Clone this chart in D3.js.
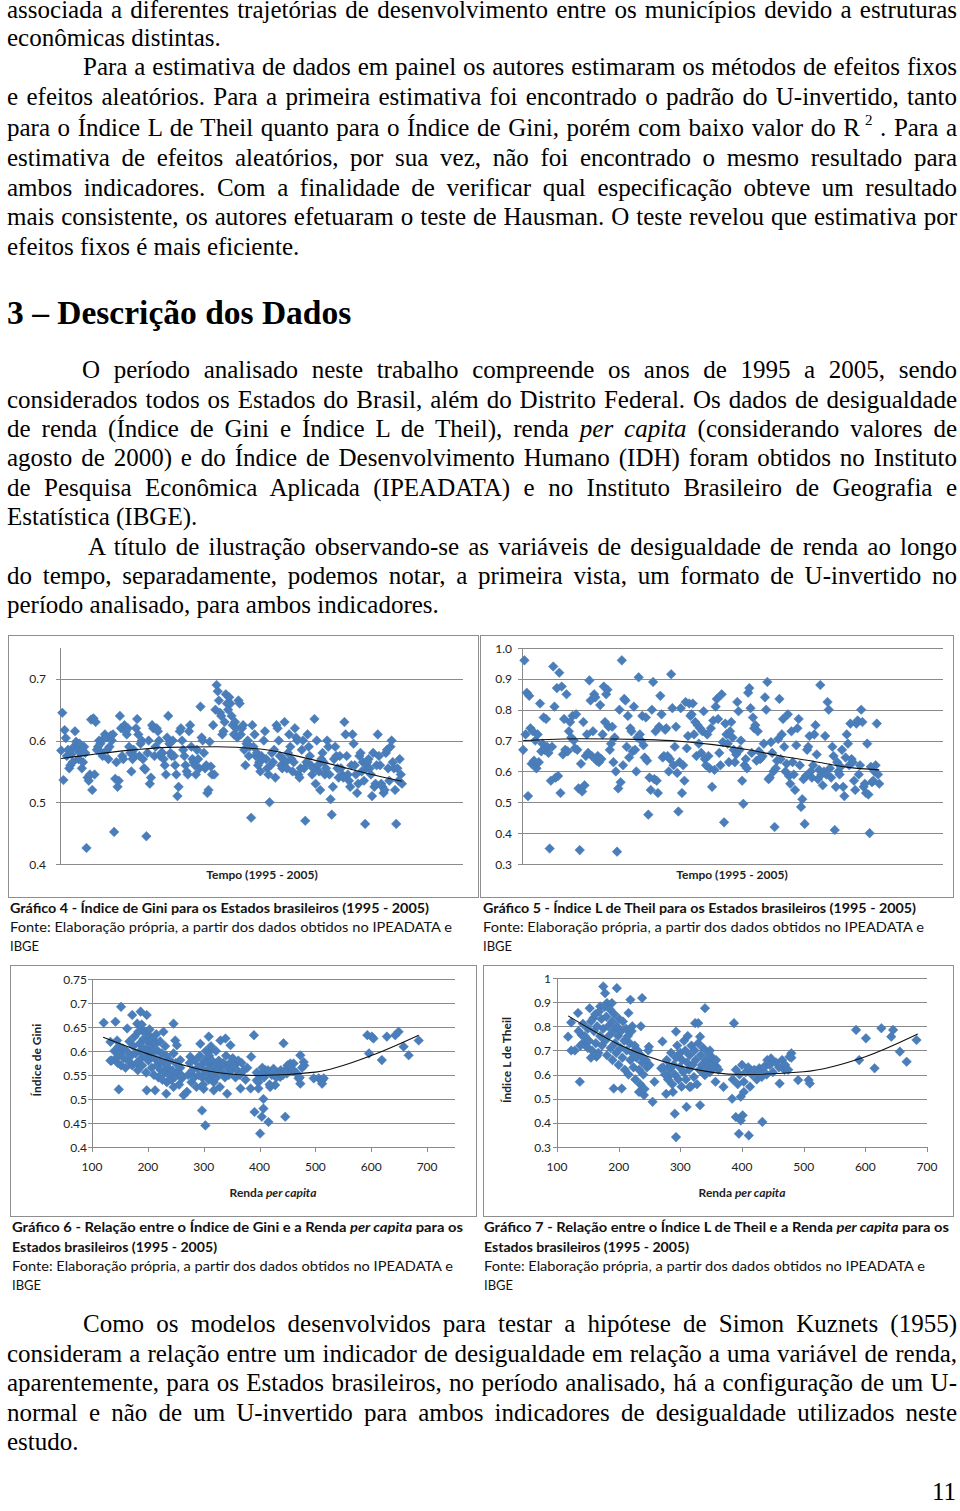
<!DOCTYPE html>
<html><head><meta charset="utf-8">
<script src="https://cdn.jsdelivr.net/npm/d3@7"></script>
<style>
html,body{margin:0;padding:0;background:#fff;}
svg{display:block;}
</style></head><body>
<svg id="page" width="960" height="1511"></svg>
<script>
// ---------------- DATA ----------------
// Gráfico 4: Índice de Gini, 27 estados x 11 anos (ordem de observação)
const giniTempo = [
0.584,0.645,0.536,0.617,0.604,0.575,0.585,0.555,0.56,0.578,0.565,
0.59,0.615,0.598,0.585,0.57,0.595,0.58,0.555,0.565,0.59,0.58,
0.426,0.54,0.535,0.545,0.634,0.52,0.636,0.545,0.63,0.585,0.59,
0.6,0.595,0.58,0.575,0.603,0.61,0.605,0.585,0.57,0.59,0.608,
0.6,0.61,0.452,0.538,0.565,0.525,0.535,0.64,0.62,0.575,0.57,
0.625,0.615,0.61,0.62,0.59,0.58,0.55,0.57,0.585,0.575,0.62,
0.635,0.61,0.575,0.595,0.6,0.57,0.555,0.553,0.445,0.58,0.6,
0.53,0.54,0.625,0.62,0.575,0.59,0.62,0.615,0.6,0.575,0.58,
0.58,0.57,0.56,0.545,0.605,0.64,0.595,0.58,0.575,0.6,0.575,
0.56,0.545,0.51,0.525,0.615,0.62,0.6,0.585,0.575,0.56,0.55,
0.545,0.615,0.625,0.59,0.57,0.565,0.56,0.545,0.585,0.57,0.555,
0.655,0.605,0.6,0.58,0.555,0.56,0.515,0.52,0.598,0.558,0.545,
0.625,0.545,0.65,0.69,0.68,0.665,0.645,0.64,0.61,0.615,0.63,
0.675,0.66,0.65,0.67,0.66,0.64,0.625,0.61,0.63,0.62,0.605,
0.665,0.66,0.61,0.62,0.625,0.585,0.56,0.595,0.6,0.575,0.59,
0.475,0.625,0.59,0.61,0.575,0.58,0.56,0.565,0.55,0.575,0.57,
0.6,0.615,0.57,0.555,0.545,0.5,0.56,0.58,0.565,0.585,0.54,
0.625,0.62,0.6,0.575,0.56,0.555,0.57,0.63,0.565,0.555,0.58,
0.61,0.59,0.57,0.55,0.565,0.62,0.605,0.6,0.545,0.54,0.555,
0.585,0.6,0.555,0.47,0.565,0.61,0.59,0.575,0.56,0.545,0.555,
0.635,0.53,0.6,0.56,0.55,0.52,0.57,0.58,0.565,0.545,0.555,
0.6,0.59,0.545,0.505,0.48,0.525,0.57,0.59,0.575,0.555,0.54,
0.575,0.555,0.545,0.54,0.63,0.61,0.575,0.545,0.535,0.525,0.56,
0.61,0.595,0.56,0.545,0.515,0.53,0.575,0.58,0.55,0.565,0.535,
0.465,0.555,0.565,0.57,0.555,0.545,0.51,0.58,0.525,0.53,0.56,
0.61,0.575,0.56,0.53,0.525,0.515,0.52,0.58,0.585,0.555,0.535,
0.59,0.6,0.565,0.555,0.52,0.465,0.555,0.535,0.57,0.545,0.53
];
// Gráfico 5: Índice L de Theil, 27 estados x 11 anos
const theilTempo = [
0.67,0.96,0.72,0.855,0.52,0.845,0.74,0.625,0.73,0.635,0.70,
0.61,0.72,0.63,0.82,0.665,0.69,0.775,0.67,0.77,0.68,0.66,
0.35,0.57,0.68,0.94,0.81,0.58,0.87,0.585,0.92,0.53,0.875,
0.655,0.77,0.67,0.85,0.665,0.73,0.76,0.71,0.78,0.70,0.675,
0.785,0.67,0.545,0.345,0.625,0.535,0.76,0.555,0.65,0.72,0.66,
0.895,0.83,0.65,0.73,0.85,0.84,0.635,0.65,0.63,0.815,0.64,
0.72,0.875,0.76,0.85,0.865,0.745,0.67,0.69,0.745,0.63,0.71,
0.60,0.34,0.545,0.8,0.565,0.96,0.62,0.835,0.83,0.68,0.78,
0.645,0.74,0.73,0.665,0.81,0.67,0.60,0.71,0.905,0.72,0.7,
0.78,0.685,0.645,0.775,0.635,0.46,0.58,0.54,0.8,0.89,0.575,
0.73,0.57,0.53,0.745,0.845,0.785,0.645,0.65,0.735,0.74,0.65,
0.6,0.64,0.915,0.805,0.62,0.68,0.745,0.595,0.47,0.63,0.805,
0.53,0.62,0.57,0.825,0.675,0.715,0.82,0.78,0.785,0.82,0.72,
0.76,0.65,0.75,0.69,0.74,0.66,0.73,0.795,0.64,0.62,0.72,
0.65,0.61,0.74,0.55,0.765,0.605,0.81,0.835,0.77,0.66,0.62,
0.85,0.695,0.435,0.755,0.72,0.69,0.63,0.73,0.76,0.71,0.67,
0.63,0.655,0.825,0.795,0.67,0.7,0.57,0.495,0.62,0.64,0.61,
0.855,0.87,0.805,0.66,0.775,0.74,0.75,0.635,0.73,0.665,0.64,
0.645,0.65,0.69,0.84,0.8,0.89,0.575,0.58,0.695,0.66,0.60,
0.42,0.61,0.635,0.705,0.835,0.64,0.72,0.77,0.68,0.6,0.625,
0.785,0.585,0.56,0.73,0.63,0.59,0.54,0.685,0.74,0.77,0.62,
0.485,0.51,0.575,0.43,0.585,0.67,0.68,0.715,0.6,0.58,0.62,
0.72,0.75,0.655,0.575,0.605,0.88,0.59,0.555,0.6,0.715,0.59,
0.825,0.80,0.61,0.58,0.68,0.65,0.41,0.55,0.63,0.6,0.59,
0.615,0.67,0.55,0.52,0.645,0.72,0.69,0.62,0.755,0.64,0.63,
0.57,0.54,0.755,0.765,0.59,0.62,0.80,0.76,0.55,0.56,0.53,
0.69,0.525,0.40,0.615,0.565,0.57,0.6,0.62,0.755,0.59,0.56
];
// Gráfico 6: [renda per capita, Índice de Gini]
const giniRenda = [
[121,0.659],[142,0.661],[133,0.619],[145,0.622],[133,0.58],[148,0.52],[152,0.692],[163,0.647],[172,0.675],[187,0.682],
[198,0.675],[181,0.657],[190,0.643],[198,0.518],[213,0.518],[228,0.64],[233,0.511],[246,0.657],[249,0.622],[252,0.612],
[246,0.525],[258,0.581],[261,0.543],[264,0.508],[270,0.515],[276,0.588],[282,0.546],[294,0.615],[297,0.476],[300,0.521],
[303,0.445],[309,0.63],[312,0.601],[318,0.518],[318,0.567],[330,0.622],[339,0.626],[342,0.511],[348,0.612],[354,0.581],
[366,0.522],[384,0.522],[385,0.588],[390,0.633],[391,0.473],[395,0.539],[398,0.522],[401,0.428],[404,0.463],[407,0.48],
[407,0.5],[410,0.56],[416,0.452],[419,0.525],[425,0.563],[428,0.529],[437,0.546],[443,0.616],[446,0.463],[449,0.553],
[455,0.574],[461,0.574],[473,0.591],[479,0.577],[470,0.543],[473,0.532],[497,0.543],[506,0.543],[512,0.539],[515,0.543],
[512,0.532],[593,0.633],[596,0.595],[601,0.63],[604,0.626],[619,0.581],[628,0.63],[643,0.633],[649,0.64],[658,0.609],
[667,0.591],[685,0.622],
[140,0.60],[143,0.585],[146,0.575],[148,0.61],[150,0.595],[152,0.57],[155,0.605],[157,0.585],[160,0.565],[162,0.60],
[165,0.58],[167,0.62],[170,0.59],[172,0.57],[174,0.61],[176,0.63],[178,0.595],[180,0.575],[182,0.56],[183,0.64],
[185,0.615],[186,0.60],[188,0.585],[189,0.655],[190,0.57],[192,0.625],[193,0.605],[195,0.59],[196,0.64],[197,0.555],
[199,0.62],[200,0.60],[201,0.58],[203,0.645],[204,0.63],[205,0.61],[206,0.59],[207,0.565],[209,0.625],[210,0.60],
[211,0.55],[212,0.585],[214,0.615],[215,0.635],[216,0.57],[218,0.60],[219,0.545],[220,0.58],[222,0.62],[223,0.56],
[225,0.595],[226,0.54],[228,0.575],[230,0.555],[231,0.61],[233,0.59],[234,0.535],[236,0.565],[238,0.55],[240,0.58],
[242,0.54],[244,0.56],[246,0.595],[248,0.545],[250,0.575],[253,0.555],[256,0.53],[258,0.565],[260,0.55],[135,0.58],
[272,0.55],[275,0.575],[278,0.535],[280,0.56],[283,0.545],[285,0.58],[287,0.525],[289,0.565],[291,0.55],[293,0.59],
[295,0.57],[297,0.545],[299,0.53],[301,0.56],[302,0.58],[304,0.6],[306,0.555],[307,0.575],[309,0.54],[310,0.59],
[312,0.565],[313,0.61],[315,0.58],[316,0.55],[318,0.535],[320,0.57],[322,0.6],[323,0.545],[325,0.56],[327,0.58],
[329,0.525],[331,0.57],[333,0.555],[335,0.575],[338,0.545],[340,0.59],[342,0.565],[345,0.55],[347,0.575],[350,0.56],
[352,0.585],[355,0.57],[357,0.545],[360,0.56],[362,0.58],[365,0.55],[368,0.575],[372,0.56],[375,0.54],[378,0.565],
[395,0.555],[398,0.535],[402,0.55],[405,0.565],[408,0.545],[412,0.555],[415,0.56],[418,0.53],[422,0.55],[426,0.56],
[430,0.545],[434,0.555],[438,0.56],[442,0.55],[446,0.56],[450,0.57],[455,0.565],[460,0.56],[465,0.555],[472,0.545],
[476,0.565],[480,0.57]
];
// Gráfico 7: [renda per capita, Índice L de Theil]
const theilRenda = [
[118,0.757],[123,0.816],[123,0.70],[129,0.70],[137,0.57],[140,0.764],[134,0.855],[142,0.73],[153,0.875],[159,0.834],
[164,0.674],[170,0.882],[175,0.965],[178,0.937],[181,0.896],[189,0.896],[197,0.958],[192,0.542],[205,0.542],[219,0.91],
[216,0.855],[222,0.80],[238,0.917],[236,0.80],[233,0.528],[241,0.515],[249,0.715],[255,0.487],[258,0.57],[269,0.626],
[271,0.737],[277,0.52],[280,0.59],[282,0.632],[288,0.528],[291,0.438],[293,0.341],[293,0.778],[310,0.466],[315,0.549],
[324,0.813],[329,0.813],[332,0.757],[332,0.473],[340,0.875],[340,0.598],[348,0.70],[357,0.57],[359,0.632],[370,0.549],
[387,0.813],[384,0.50],[390,0.424],[395,0.355],[398,0.508],[401,0.431],[398,0.41],[403,0.528],[411,0.348],[414,0.619],
[428,0.626],[433,0.404],[436,0.632],[441,0.66],[447,0.667],[461,0.563],[469,0.619],[477,0.674],[480,0.688],[491,0.577],
[508,0.577],[510,0.563],[585,0.785],[590,0.66],[601,0.75],[615,0.626],[626,0.792],[642,0.757],[645,0.785],[656,0.695],
[667,0.653],[683,0.743],
[142,0.81],[145,0.76],[147,0.72],[150,0.79],[152,0.74],[155,0.82],[157,0.70],[160,0.78],[162,0.85],[163,0.73],
[165,0.80],[167,0.69],[168,0.86],[170,0.76],[172,0.83],[173,0.72],[175,0.79],[177,0.88],[178,0.74],[180,0.84],
[181,0.68],[183,0.80],[184,0.76],[186,0.87],[187,0.71],[189,0.82],[190,0.66],[191,0.78],[193,0.85],[194,0.73],
[196,0.69],[197,0.80],[199,0.76],[200,0.64],[201,0.83],[203,0.71],[204,0.78],[206,0.67],[207,0.82],[209,0.74],
[210,0.62],[212,0.79],[213,0.70],[215,0.76],[216,0.60],[218,0.73],[219,0.66],[221,0.78],[222,0.69],[224,0.63],
[226,0.72],[227,0.58],[229,0.67],[231,0.70],[233,0.62],[235,0.56],[236,0.68],[238,0.65],[240,0.60],[242,0.54],
[244,0.66],[246,0.63],[248,0.70],[250,0.64],[135,0.78],[138,0.72],[150,0.71],[155,0.67],[165,0.68],
[272,0.63],[275,0.60],[278,0.66],[280,0.58],[283,0.62],[285,0.69],[287,0.56],[289,0.64],[291,0.60],[293,0.67],
[295,0.72],[297,0.58],[299,0.63],[300,0.69],[302,0.55],[303,0.66],[305,0.61],[306,0.74],[308,0.70],[309,0.58],
[311,0.65],[312,0.76],[314,0.62],[315,0.68],[317,0.55],[318,0.72],[320,0.64],[322,0.59],[323,0.70],[325,0.66],
[327,0.56],[329,0.73],[331,0.62],[333,0.68],[335,0.64],[337,0.71],[339,0.60],[341,0.66],[343,0.63],[345,0.69],
[348,0.61],[350,0.65],[352,0.67],[355,0.63],[358,0.66],[362,0.62],
[385,0.58],[390,0.62],[393,0.56],[396,0.60],[400,0.64],[403,0.57],[406,0.61],[410,0.63],[413,0.55],[416,0.60],
[420,0.62],[424,0.58],[428,0.61],[432,0.59],[436,0.63],[440,0.60],[445,0.64],[450,0.61],[455,0.65],[460,0.63],
[465,0.66],[470,0.64],[475,0.62],[480,0.67]
];
// Linhas de tendência
const trend4X = [1,64,93,136,179,208,237,266,297];
const trend4Y = [0.571,0.585,0.589,0.59,0.585,0.574,0.561,0.547,0.534];
const trend5X = [1,48,104,131,159,187,214,242,270,297];
const trend5Y = [0.70,0.706,0.703,0.698,0.687,0.671,0.651,0.633,0.614,0.605];
const trend6X = [120,200,300,400,500,600,685];
const trend6Y = [0.6285,0.594,0.560,0.549,0.556,0.5905,0.633];
const trend7X = [118,200,300,400,500,600,685];
const trend7Y = [0.843,0.725,0.635,0.600,0.6115,0.674,0.768];
// Eixos
const ticks4 = [0.4,0.5,0.6,0.7];
const ticks5 = [0.3,0.4,0.5,0.6,0.7,0.8,0.9,1.0];
const ticks6 = [0.4,0.45,0.5,0.55,0.6,0.65,0.7,0.75];
const ticks7 = [0.3,0.4,0.5,0.6,0.7,0.8,0.9,1];
const rendaTicks = [100,200,300,400,500,600,700];

// Texto
const para1 = [
 "associada a diferentes trajetórias de desenvolvimento entre os municípios devido a estruturas",
 "econômicas distintas."];
const para2 = [
 "Para a estimativa de dados em painel os autores estimaram os métodos de efeitos fixos",
 "e efeitos aleatórios. Para a primeira estimativa foi encontrado o padrão do U-invertido, tanto",
 [["para o Índice L de Theil quanto para o Índice de Gini, porém com baixo valor do R"],[" 2","sup"],[" . Para a"]],
 "estimativa de efeitos aleatórios, por sua vez, não foi encontrado o mesmo resultado para",
 "ambos indicadores. Com a finalidade de verificar qual especificação obteve um resultado",
 "mais consistente, os autores efetuaram o teste de Hausman. O teste revelou que estimativa por",
 "efeitos fixos é mais eficiente."];
const heading = "3 – Descrição dos Dados";
const para3 = [
 "O período analisado neste trabalho compreende os anos de 1995 a 2005, sendo",
 "considerados todos os Estados do Brasil, além do Distrito Federal. Os dados de desigualdade",
 [["de renda (Índice de Gini e Índice L de Theil), renda "],["per capita","i"],[" (considerando valores de"]],
 "agosto de 2000) e do Índice de Desenvolvimento Humano (IDH) foram obtidos no Instituto",
 "de Pesquisa Econômica Aplicada (IPEADATA) e no Instituto Brasileiro de Geografia e",
 "Estatística (IBGE)."];
const para4 = [
 "A título de ilustração observando-se as variáveis de desigualdade de renda ao longo",
 "do tempo, separadamente, podemos notar, a primeira vista, um formato de U-invertido no",
 "período analisado, para ambos indicadores."];
const para5 = [
 "Como os modelos desenvolvidos para testar a hipótese de Simon Kuznets (1955)",
 "consideram a relação entre um indicador de desigualdade em relação a uma variável de renda,",
 "aparentemente, para os Estados brasileiros, no período analisado, há a configuração de um U-",
 "normal e não de um U-invertido para ambos indicadores de desigualdade utilizados neste",
 "estudo."];
const pageNumber = "11";

// ---------------- DRAW ----------------
const svg = d3.select('#page');
const SERIF = '"Liberation Serif","Times New Roman",serif';
const SANS = 'Lato,"Open Sans",sans-serif';
const BODY = 25;
const RIGHT = 957;

function textLine(x, y, content, justify) {
  const parts = typeof content === 'string' ? [[content]] : content;
  const t = svg.append('text').attr('x', x).attr('y', y)
    .style('font-family', SERIF).style('font-size', BODY + 'px').attr('fill', '#000');
  let afterSup = false;
  parts.forEach(p => {
    const ts = t.append('tspan').text(p[0]);
    if (p[1] === 'i') ts.style('font-style', 'italic');
    if (p[1] === 'sup') { ts.attr('dy', -11).style('font-size', '15px'); afterSup = true; }
    else if (afterSup) { ts.attr('dy', 11); afterSup = false; }
  });
  if (justify) {
    const full = parts.map(p => p[0]).join('');
    const n = (full.match(/ /g) || []).length;
    const w = t.node().getComputedTextLength();
    t.style('word-spacing', ((RIGHT - x - w) / n) + 'px');
  }
  return t;
}
function paragraph(lines, ys, indentX) {
  lines.forEach((l, i) => {
    const last = i === lines.length - 1;
    textLine(i === 0 && indentX ? indentX : 7, ys[i], l, !last);
  });
}
textLine(7, 18, para1[0], true);
textLine(7, 46, para1[1], false);
paragraph(para2, [75, 104.5, 135.5, 166, 195.5, 225, 254.5], 83);
svg.append('text').attr('x', 7).attr('y', 324).text(heading)
  .style('font-family', SERIF).style('font-size', '33.5px').style('font-weight', 'bold');
paragraph(para3, [378, 407.5, 437, 466, 495.5, 525], 82);
paragraph(para4, [554.5, 584, 613], 88);
paragraph(para5, [1332, 1361.5, 1391, 1420.5, 1450], 83);
svg.append('text').attr('x', 956).attr('y', 1500).attr('text-anchor', 'end').text(pageNumber)
  .style('font-family', SERIF).style('font-size', BODY + 'px');

// ---------- charts ----------
const BLUE = '#4a7ebb';
const GRID = '#8a8a8a';
const diamond = 'M0,-4.8L4.8,0L0,4.8L-4.8,0Z';

function chart(c) {
  const g = svg.append('g');
  g.append('rect').attr('x', c.box[0] + 0.5).attr('y', c.box[1] + 0.5)
    .attr('width', c.box[2] - c.box[0]).attr('height', c.box[3] - c.box[1])
    .attr('fill', '#fff').attr('stroke', '#8e8e8e').attr('stroke-width', 1);
  const x = d3.scaleLinear().domain(c.xDomain).range([c.left, c.right]);
  const y = d3.scaleLinear().domain(c.yDomain).range([c.bottom, c.top]);
  g.selectAll('line.grid').data(c.yTicks.filter(v => v > c.yDomain[0] + 1e-9)).enter().append('line')
    .attr('x1', c.left).attr('x2', c.right)
    .attr('y1', d => Math.round(y(d)) + 0.5).attr('y2', d => Math.round(y(d)) + 0.5)
    .attr('stroke', GRID).attr('stroke-width', 1);
  g.append('line').attr('x1', c.left + 0.5).attr('x2', c.left + 0.5).attr('y1', c.top).attr('y2', Math.round(c.bottom) + 0.5)
    .attr('stroke', GRID);
  g.append('line').attr('x1', c.left - 4).attr('x2', c.right).attr('y1', Math.round(c.bottom) + 0.5).attr('y2', Math.round(c.bottom) + 0.5)
    .attr('stroke', GRID);
  g.selectAll('line.yt').data(c.yTicks).enter().append('line')
    .attr('x1', c.left - 4).attr('x2', c.left)
    .attr('y1', d => Math.round(y(d)) + 0.5).attr('y2', d => Math.round(y(d)) + 0.5).attr('stroke', GRID);
  g.selectAll('text.yl').data(c.yTicks).enter().append('text')
    .attr('x', c.labelX).attr('y', d => y(d) + 4.5).attr('text-anchor', 'end')
    .style('font-family', SANS).style('font-size', '12px').attr('fill', '#222')
    .text(c.fmt);
  if (c.xTicks) {
    g.selectAll('line.xt').data(c.xTicks).enter().append('line')
      .attr('x1', d => Math.round(x(d)) + 0.5).attr('x2', d => Math.round(x(d)) + 0.5)
      .attr('y1', c.bottom).attr('y2', c.bottom + 5).attr('stroke', GRID);
    g.selectAll('text.xl').data(c.xTicks).enter().append('text')
      .attr('x', d => x(d)).attr('y', c.bottom + 24).attr('text-anchor', 'middle')
      .style('font-family', SANS).style('font-size', '12px').attr('fill', '#222')
      .text(d => d);
  }
  g.selectAll('path.pt').data(c.points).enter().append('path')
    .attr('d', diamond)
    .attr('transform', d => `translate(${x(d[0])},${y(d[1])})`)
    .attr('fill', BLUE).attr('stroke', '#4577b3').attr('stroke-width', 0.5);
  const line = d3.line().x(d => x(d[0])).y(d => y(d[1])).curve(d3.curveMonotoneX);
  g.append('path').attr('d', line(d3.zip(c.trendX, c.trendY)))
    .attr('fill', 'none').attr('stroke', '#111').attr('stroke-width', 1.1);
  const xt = g.append('text').attr('x', c.xTitle[0]).attr('y', c.xTitle[1]).attr('text-anchor', 'middle')
    .style('font-family', SANS).style('font-size', '12px').style('font-weight', 'bold').attr('fill', '#222');
  c.xTitleParts.forEach(p => { const s = xt.append('tspan').text(p[0]); if (p[1]) s.style('font-style', 'italic'); });
  if (c.yTitle) {
    g.append('text').attr('transform', `translate(${c.yTitle[0]},${c.yTitle[1]}) rotate(-90)`)
      .attr('text-anchor', 'middle').style('font-family', SANS).style('font-size', '12px')
      .style('font-weight', 'bold').attr('fill', '#222').text(c.yTitle[2]);
  }
}

const fmt1 = d => d3.format('.1f')(d);
const fmtG = d => String(+d.toFixed(2));

chart({ box: [8, 635, 478, 897], left: 60, right: 463, top: 648, bottom: 864,
  xDomain: [0, 350], yDomain: [0.4, 0.75], yTicks: ticks4, fmt: fmt1, labelX: 46,
  points: giniTempo.map((v, i) => [i + 1, v]), trendX: trend4X, trendY: trend4Y,
  xTitle: [262, 879], xTitleParts: [["Tempo (1995 - 2005)"]] });
chart({ box: [480, 635, 953, 897], left: 522, right: 943, top: 648, bottom: 864,
  xDomain: [0, 350], yDomain: [0.3, 1.0], yTicks: ticks5, fmt: fmt1, labelX: 512,
  points: theilTempo.map((v, i) => [i + 1, v]), trendX: trend5X, trendY: trend5Y,
  xTitle: [732, 879], xTitleParts: [["Tempo (1995 - 2005)"]] });
chart({ box: [10, 965, 476, 1216], left: 92, right: 455, top: 979, bottom: 1147,
  xDomain: [100, 750], yDomain: [0.4, 0.75], yTicks: ticks6, fmt: fmtG, labelX: 87,
  xTicks: rendaTicks, points: giniRenda, trendX: trend6X, trendY: trend6Y,
  xTitle: [273, 1197], xTitleParts: [["Renda "], ["per capita", 1]], yTitle: [41, 1060, "Índice de Gini"] });
chart({ box: [483, 965, 953, 1216], left: 557, right: 927, top: 978, bottom: 1147,
  xDomain: [100, 700], yDomain: [0.3, 1], yTicks: ticks7, fmt: fmtG, labelX: 551,
  xTicks: rendaTicks, points: theilRenda, trendX: trend7X, trendY: trend7Y,
  xTitle: [742, 1197], xTitleParts: [["Renda "], ["per capita", 1]], yTitle: [511, 1060, "Índice L de Theil"] });

// captions
const captions = [
  { x: 10, y: 913, w: 419, bold: true, parts: [["Gráfico 4 - Índice de Gini para os Estados brasileiros (1995 - 2005)"]] },
  { x: 10, y: 932, w: 442, parts: [["Fonte: Elaboração própria, a partir dos dados obtidos no IPEADATA e"]] },
  { x: 10, y: 951, parts: [["IBGE"]] },
  { x: 483, y: 913, w: 433, bold: true, parts: [["Gráfico 5 - Índice L de Theil para os Estados brasileiros (1995 - 2005)"]] },
  { x: 483, y: 932, w: 441, parts: [["Fonte: Elaboração própria, a partir dos dados obtidos no IPEADATA e"]] },
  { x: 483, y: 951, parts: [["IBGE"]] },
  { x: 12, y: 1232, w: 451, bold: true, parts: [["Gráfico 6 - Relação entre o Índice de Gini e a Renda "], ["per capita", 1], ["  para os"]] },
  { x: 12, y: 1252, w: 205, bold: true, parts: [["Estados brasileiros (1995 - 2005)"]] },
  { x: 12, y: 1271, w: 441, parts: [["Fonte: Elaboração própria, a partir dos dados obtidos no IPEADATA e"]] },
  { x: 12, y: 1290, parts: [["IBGE"]] },
  { x: 484, y: 1232, w: 465, bold: true, parts: [["Gráfico 7 - Relação entre o Índice L de Theil e a Renda "], ["per capita", 1], ["  para os"]] },
  { x: 484, y: 1252, w: 205, bold: true, parts: [["Estados brasileiros (1995 - 2005)"]] },
  { x: 484, y: 1271, w: 441, parts: [["Fonte: Elaboração própria, a partir dos dados obtidos no IPEADATA e"]] },
  { x: 484, y: 1290, parts: [["IBGE"]] }
];
captions.forEach(c => {
  const t = svg.append('text').attr('x', c.x).attr('y', c.y)
    .style('font-family', SANS).style('font-size', '13px').attr('fill', '#111')
    .style('font-weight', c.bold ? 'bold' : 'normal');
  c.parts.forEach(p => { const s = t.append('tspan').text(p[0]); if (p[1]) s.style('font-style', 'italic'); });
  if (c.w) t.attr('textLength', c.w).attr('lengthAdjust', 'spacingAndGlyphs');
});
</script>
</body></html>
